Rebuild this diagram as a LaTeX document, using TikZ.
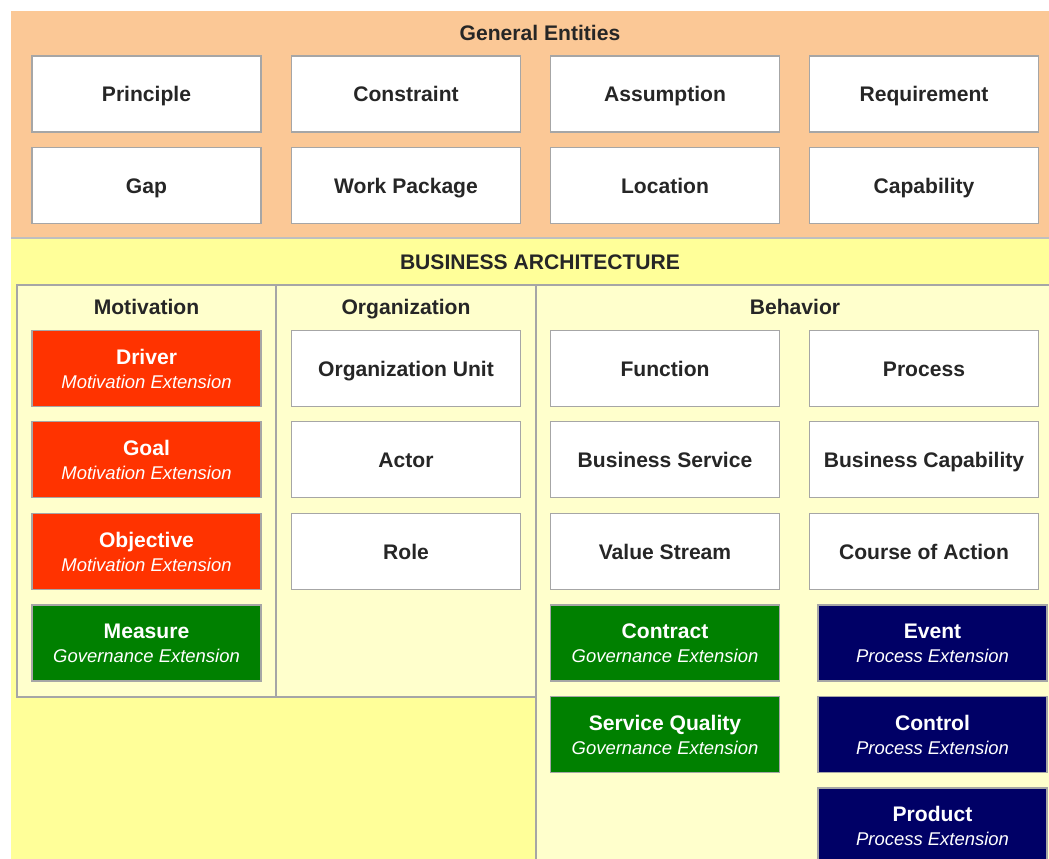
\documentclass[tikz,border=0pt]{standalone}
\usepackage{fontspec}
\setmainfont{Liberation Sans}

\definecolor{genbg}{RGB}{251,200,150}
\definecolor{archbg}{RGB}{255,255,153}
\definecolor{panelbg}{RGB}{255,255,204}
\definecolor{motred}{RGB}{255,51,0}
\definecolor{govgreen}{RGB}{0,128,0}
\definecolor{procnavy}{RGB}{0,0,102}

\newcommand{\boxfont}{\fontsize{12}{13.6}\selectfont\bfseries}
\newcommand{\extline}[1]{{\fontsize{10.5}{13.6}\selectfont\mdseries\itshape #1}}

\begin{document}
\begin{tikzpicture}[
        x=0.02cm, y=-0.02cm,
        entity/.style={draw=black!35, line width=0.8pt, fill=white, minimum width=4.58cm, minimum height=1.52cm, inner sep=0pt, align=center, text=black!85, font=\boxfont, text height=11.3pt, text depth=2.5pt},
        extbox/.style={entity, text=white, text height=24.9pt},
        motext/.style={extbox, fill=motred},
        govext/.style={extbox, fill=govgreen},
        procext/.style={extbox, fill=procnavy},
        heading/.style={font=\boxfont, text=black!85, text height=11.3pt, text depth=2.5pt},
        panel/.style={draw=black!35, line width=0.8pt, fill=panelbg}
    ]
        \clip (0,0) rectangle (1049,859);
        \fill[white] (0,0) rectangle (1049,859);

        % background areas
        \fill[genbg] (11,11) rectangle (1060,238);
        \fill[archbg] (11,238) rectangle (1060,870);
        \draw[black!25, line width=0.8pt] (11,238) -- (1060,238);
        \draw[panel] (17,285) rectangle (276,697);
        \draw[panel] (276,285) rectangle (536,697);
        \draw[panel] (536,285) rectangle (1070,880);

        \node[heading] (general) at (540,33) {General Entities};
        \node[heading] (business) at (540,262) {BUSINESS ARCHITECTURE};

        % general entities
        \node[entity] (principle) at (146.5,94) {Principle};
        \node[entity] (constraint) at (406,94) {Constraint};
        \node[entity] (assumption) at (665,94) {Assumption};
        \node[entity] (requirement) at (924,94) {Requirement};
        \node[entity] (gap) at (146.5,185.5) {Gap};
        \node[entity] (workpkg) at (406,185.5) {Work Package};
        \node[entity] (location) at (665,185.5) {Location};
        \node[entity] (capability) at (924,185.5) {Capability};

        % motivation
        \node[heading] (motivation) at (146.5,307) {Motivation};
        \node[motext] (driver) at (146.5,368.5) {Driver\\\extline{Motivation Extension}};
        \node[motext] (goal) at (146.5,459.5) {Goal\\\extline{Motivation Extension}};
        \node[motext] (objective) at (146.5,551.5) {Objective\\\extline{Motivation Extension}};
        \node[govext] (measure) at (146.5,643) {Measure\\\extline{Governance Extension}};

        % organization
        \node[heading] (organization) at (406,307) {Organization};
        \node[entity] (orgunit) at (406,368.5) {Organization Unit};
        \node[entity] (actor) at (406,459.5) {Actor};
        \node[entity] (role) at (406,551.5) {Role};

        % behavior
        \node[heading] (behavior) at (795,307) {Behavior};
        \node[entity] (function) at (665,368.5) {Function};
        \node[entity] (process) at (924,368.5) {Process};
        \node[entity] (bizservice) at (665,459.5) {Business Service};
        \node[entity] (bizcap) at (924,459.5) {Business Capability};
        \node[entity] (valuestream) at (665,551.5) {Value Stream};
        \node[entity] (courseaction) at (924,551.5) {Course of Action};
        \node[govext] (contract) at (665,643) {Contract\\\extline{Governance Extension}};
        \node[govext] (servquality) at (665,734.5) {Service Quality\\\extline{Governance Extension}};
        \node[procext] (event) at (932.5,643) {Event\\\extline{Process Extension}};
        \node[procext] (control) at (932.5,734.5) {Control\\\extline{Process Extension}};
        \node[procext] (product) at (932.5,826) {Product\\\extline{Process Extension}};
    \end{tikzpicture}
\end{document}
